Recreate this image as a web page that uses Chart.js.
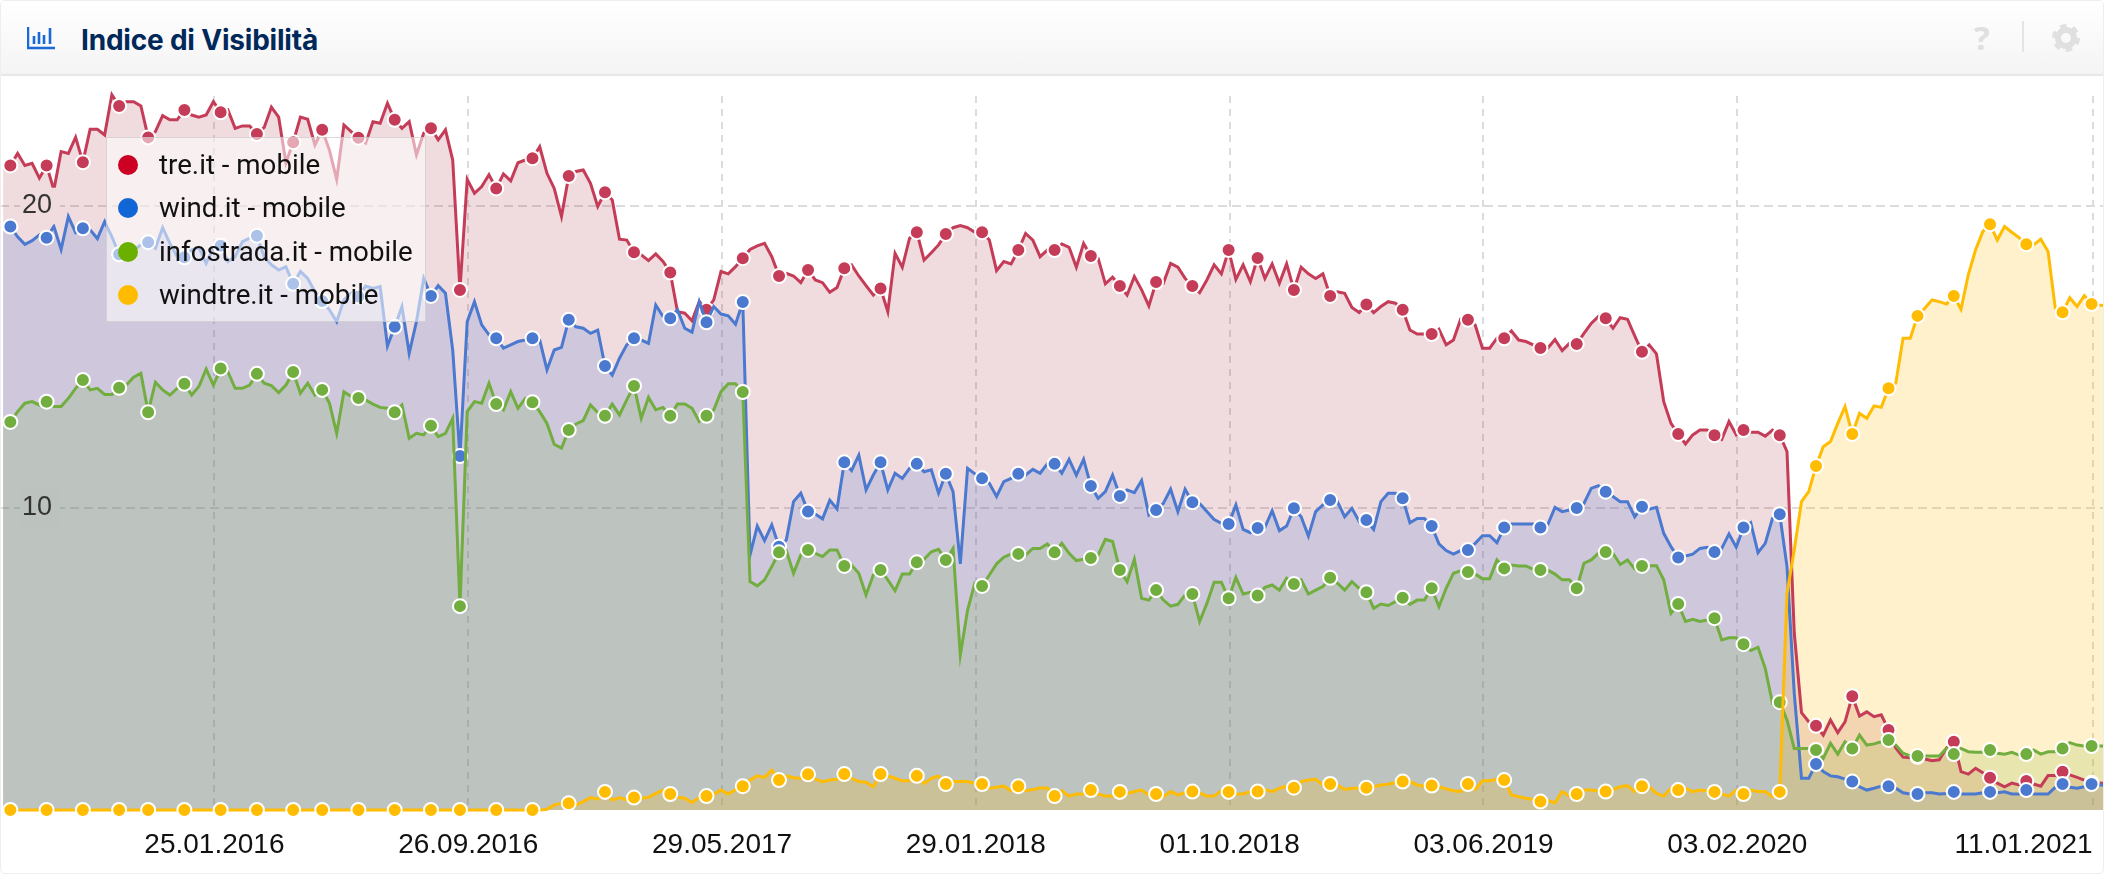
<!DOCTYPE html>
<html lang="it">
<head>
<meta charset="utf-8">
<title>Indice di Visibilità</title>
<script src="https://cdn.jsdelivr.net/npm/chart.js@4"></script>
<style>
  html, body { margin: 0; padding: 0; background: #fff; }
  #box { position: relative; width: 2102px; height: 872px; border: 1px solid #eee; border-radius: 5px; overflow: hidden; }
  #head {
    position: absolute; left: 0; top: 0; width: 100%; height: 73px;
    background: linear-gradient(#fff, #f4f4f4);
    border-bottom: 2px solid #e8e8e8;
    z-index: 3;
  }
  #head h1 {
    position: absolute; left: 80px; top: 22px; margin: 0;
    font: 700 28px/34px Inter, sans-serif; letter-spacing: -0.2px; color: #00285a;
  }
  #head svg { position: absolute; }
  #help { position: absolute; left: 1973px; top: 18px; font: 700 33px/38px "Open Sans", sans-serif; color: #e0e0e0; }
  #sep { position: absolute; left: 2021px; top: 20px; width: 2px; height: 31px; background: #e4e4e4; }
  #chartWrap { position: absolute; left: -1px; top: -1px; width: 2104px; height: 874px; }
  #legend {
    position: absolute; left: 105px; top: 136px; width: 318px; height: 183px; z-index: 2;
    background: rgba(255, 255, 255, 0.55);
    border: 1px solid rgba(190, 190, 190, 0.55);
  }
  #legend div { position: absolute; left: 52px; font: 27.7px/30px Roboto, sans-serif; color: #111; white-space: nowrap; }
  #legend i { position: absolute; left: -41px; top: 5px; width: 20px; height: 20px; border-radius: 50%; }
</style>
</head>
<body>
<div id="box">
  <div id="head">
    <svg style="left:26px;top:26px" width="29" height="23" viewBox="0 0 29 23">
      <path d="M1 0v21h27" fill="none" stroke="#1a6ad6" stroke-width="2.5"/>
      <path d="M7 9v8M12 5v12M17 8v9M23 1v16" fill="none" stroke="#1a6ad6" stroke-width="2.6"/>
    </svg>
    <h1>Indice di Visibilità</h1>
    <div id="help">?</div>
    <div id="sep"></div>
    <svg style="left:2051px;top:23px" width="28" height="28" viewBox="0 0 28 28">
      <circle cx="14" cy="14" r="8" fill="none" stroke="#e0e0e0" stroke-width="6"/>
      <circle cx="14" cy="14" r="12" fill="none" stroke="#e0e0e0" stroke-width="4" stroke-dasharray="6.4 6.17"/>
    </svg>
  </div>
  <div id="chartWrap"><canvas id="chart" width="2104" height="874"></canvas></div>
  <div id="legend"></div>
</div>
<script>
'use strict';

/* ----------------------------------------------------------
   DATA (one value per week)
---------------------------------------------------------- */
const firstWeek = Date.UTC(2015, 6, 5);

const tickDates = ['25.01.2016', '26.09.2016', '29.05.2017', '29.01.2018',
                   '01.10.2018', '03.06.2019', '03.02.2020', '11.01.2021'];

const yTickValues = [10, 20];

const seriesNames = ['tre.it - mobile', 'wind.it - mobile', 'infostrada.it - mobile', 'windtre.it - mobile'];

const treValues = [
  21.34,21.34,21.74,21.34,21.41,20.92,21.34,20.53,21.80,21.74,
  22.27,21.45,22.54,22.54,22.35,23.68,23.31,23.45,23.45,23.31,
  22.27,22.46,22.99,22.85,22.85,23.18,23.01,22.94,23.01,23.45,
  23.10,23.18,22.57,22.65,22.65,22.38,22.60,23.27,22.94,21.43,
  22.11,22.94,22.87,22.02,22.52,21.85,20.88,22.68,22.46,22.26,
  22.08,22.79,22.74,23.40,22.85,22.57,22.79,21.69,22.41,22.57,
  22.19,22.52,21.52,17.22,20.88,20.42,20.64,21.03,20.58,21.06,
  20.83,21.43,21.52,21.58,21.96,21.08,20.58,19.65,20.99,21.14,
  21.19,20.75,19.98,20.45,20.20,18.90,18.87,18.47,18.38,18.19,
  18.41,18.16,17.80,16.50,16.45,16.20,16.83,16.56,16.89,17.83,
  17.75,17.99,18.27,18.56,18.68,18.76,18.32,17.68,17.77,17.68,
  17.46,17.88,17.55,17.46,17.14,17.30,17.94,18.05,17.68,17.36,
  17.05,17.27,16.50,18.43,17.97,18.93,19.13,18.21,18.45,18.71,
  19.07,19.28,19.35,19.28,19.13,19.13,18.87,17.86,18.16,18.08,
  18.54,19.09,18.87,18.32,18.54,18.54,18.74,18.63,17.97,18.76,
  18.34,18.27,17.42,17.64,17.35,17.05,17.66,17.22,16.69,17.48,
  17.44,18.10,17.97,17.60,17.35,17.13,17.55,18.05,17.75,18.54,
  17.57,18.05,17.49,18.28,17.60,18.08,17.44,18.08,17.22,17.97,
  17.75,17.60,17.75,17.02,17.16,17.11,16.64,16.47,16.74,16.47,
  16.67,16.83,16.78,16.56,15.89,15.76,15.76,15.76,15.92,15.40,
  15.56,16.25,16.23,16.06,15.29,15.29,15.62,15.62,15.86,15.56,
  15.51,15.40,15.30,15.29,15.58,15.21,15.45,15.43,15.78,16.11,
  16.34,16.28,15.95,16.30,16.25,15.70,15.17,15.40,15.10,13.52,
  12.80,12.45,12.12,12.42,12.58,12.58,12.41,12.27,12.86,12.42,
  12.58,12.51,12.51,12.38,12.58,12.41,11.87,5.86,3.22,2.92,
  2.79,2.48,2.98,2.56,2.92,3.77,3.11,3.25,3.09,3.15,
  2.65,2.05,1.75,1.73,1.76,1.69,1.63,1.66,2.05,2.26,
  1.27,1.19,1.38,1.23,1.07,0.89,0.77,0.89,0.83,0.96,
  0.86,0.79,1.14,1.14,1.27,1.16,1.08,0.99,0.90,0.89,
  0.88
];

const windValues = [
  19.32,19.32,18.98,18.73,18.85,19.04,18.95,19.32,18.56,19.65,
  19.12,19.26,19.21,18.92,19.48,18.98,18.40,18.60,18.54,18.71,
  18.80,18.60,19.28,18.76,18.32,18.30,18.54,18.63,18.10,18.60,
  18.68,18.16,18.32,18.82,18.93,19.01,18.32,18.05,17.88,17.99,
  17.42,17.83,17.60,17.16,16.85,16.56,16.17,16.89,17.11,17.00,
  17.35,17.27,17.33,15.36,16.00,16.67,15.12,16.17,17.60,17.02,
  17.36,17.11,15.23,11.72,16.17,16.83,16.06,15.73,15.62,15.29,
  15.40,15.51,15.56,15.62,15.56,14.57,15.23,15.32,16.23,16.00,
  15.95,15.78,15.89,14.70,14.40,14.96,15.40,15.62,15.56,15.45,
  16.72,16.34,16.28,16.56,15.95,15.82,16.83,16.15,16.67,16.42,
  16.36,16.08,16.82,8.44,9.40,8.92,9.44,8.72,8.94,10.21,
  10.49,9.88,9.80,9.64,10.26,9.97,11.51,11.24,11.75,10.60,
  11.09,11.51,10.60,11.15,10.98,11.31,11.46,11.20,11.26,10.49,
  11.13,10.54,8.15,11.31,11.13,10.98,10.82,10.38,10.87,10.98,
  11.13,11.09,11.28,11.15,11.46,11.46,11.15,11.61,11.09,11.61,
  10.73,10.32,10.54,11.09,10.40,10.60,10.51,10.91,9.77,9.93,
  10.15,10.62,9.88,10.62,10.19,10.15,9.88,9.62,9.49,9.47,
  10.10,9.29,9.18,9.34,9.36,9.91,9.25,9.40,9.99,9.71,
  9.07,9.88,10.10,10.26,10.21,9.71,9.99,9.55,9.60,9.29,
  10.21,10.49,10.49,10.32,9.51,9.65,9.65,9.40,8.81,8.59,
  8.47,8.59,8.61,8.83,9.08,9.08,8.85,9.35,9.47,9.47,
  9.47,9.47,9.35,9.44,10.02,9.88,9.93,10.00,10.15,10.65,
  10.74,10.54,10.38,10.21,10.21,9.71,10.04,9.96,10.02,9.16,
  8.72,8.36,8.41,8.47,8.66,8.70,8.54,8.66,9.14,8.70,
  9.35,9.51,8.52,8.83,9.66,9.79,8.06,3.86,1.05,1.05,
  1.52,1.27,1.13,1.10,1.02,0.94,0.77,0.66,0.72,0.79,
  0.79,0.72,0.57,0.53,0.53,0.57,0.57,0.53,0.55,0.60,
  0.53,0.53,0.53,0.57,0.60,0.57,0.60,0.53,0.53,0.66,
  0.53,0.53,0.53,0.75,0.86,0.75,0.72,0.77,0.86,0.83,
  0.83
];

const infostradaValues = [
  12.80,12.85,13.19,13.47,13.52,13.41,13.52,13.36,13.36,13.63,
  13.96,14.24,13.91,13.96,13.76,13.76,13.98,14.07,14.33,14.46,
  13.17,14.16,13.91,13.74,13.96,14.11,13.74,14.02,14.60,14.07,
  14.62,14.51,13.96,13.96,14.07,14.44,14.13,14.05,13.82,14.07,
  14.50,13.80,14.13,13.74,13.91,13.47,12.47,13.85,13.69,13.64,
  13.58,13.44,13.33,13.30,13.17,13.41,12.31,12.47,12.42,12.72,
  12.36,12.47,12.97,6.75,13.19,13.52,13.47,14.13,13.44,13.25,
  13.85,13.30,13.63,13.50,13.19,12.80,12.11,11.98,12.58,12.78,
  12.89,13.41,13.16,13.05,13.44,13.08,13.58,14.04,12.97,13.66,
  13.25,13.33,13.05,13.44,13.44,13.30,12.86,13.05,13.25,13.85,
  14.11,14.11,13.84,7.56,7.42,7.62,8.06,8.53,8.59,7.84,
  8.44,8.61,8.50,8.39,8.61,8.61,8.08,8.11,7.84,7.12,
  7.78,7.95,7.62,7.26,7.81,7.81,8.20,8.30,8.55,8.63,
  8.28,8.66,5.13,6.62,7.51,7.42,7.78,8.15,8.37,8.48,
  8.48,8.44,8.66,8.66,8.81,8.53,8.83,8.50,8.26,8.30,
  8.34,8.44,8.96,8.89,7.95,7.56,8.30,7.01,6.95,7.28,
  6.95,6.75,6.81,7.12,7.15,6.24,6.84,7.54,7.54,7.01,
  7.70,7.15,7.21,7.10,7.37,7.45,7.28,7.67,7.48,7.62,
  7.15,7.28,7.40,7.69,7.51,7.28,7.56,7.34,7.21,6.68,
  6.82,6.77,6.90,7.03,6.81,6.95,6.95,7.34,6.73,7.34,
  7.84,7.92,7.88,7.81,7.66,7.66,8.28,8.00,8.11,8.08,
  8.08,7.97,7.95,7.95,7.81,7.62,7.62,7.34,8.17,8.28,
  8.50,8.54,8.50,8.13,8.28,7.98,8.08,8.09,8.09,7.62,
  6.51,6.82,6.24,6.31,6.24,6.29,6.35,5.63,5.70,5.70,
  5.49,5.28,5.39,4.69,3.53,3.57,2.98,2.04,2.04,2.04,
  1.99,1.71,2.21,1.85,2.26,2.04,2.48,2.15,2.19,2.26,
  2.32,2.15,1.88,1.79,1.79,1.79,1.79,1.79,2.04,1.85,
  2.04,1.93,1.91,1.91,1.99,1.88,1.85,1.91,1.82,1.85,
  1.99,1.85,1.93,1.93,2.04,2.23,2.15,2.12,2.12,2.12,
  2.12
];

const windtreValues = [
  0,0,0,0,0,0,0,0,0,0,
  0,0,0,0,0,0,0,0,0,0,
  0,0,0,0,0,0,0,0,0,0,
  0,0,0,0,0,0,0,0,0,0,
  0,0,0,0,0,0,0,0,0,0,
  0,0,0,0,0,0,0,0,0,0,
  0,0,0,0,0,0,0,0,0,0,
  0,0,0,0,0,0.02,0.17,0.22,0.22,0.17,
  0.28,0.41,0.36,0.60,0.33,0.41,0.33,0.41,0.39,0.42,
  0.55,0.66,0.53,0.42,0.39,0.25,0.42,0.46,0.53,0.66,
  0.53,0.68,0.79,0.99,1.13,1.08,1.32,0.99,1.13,1.07,
  1.05,1.18,1.02,0.94,0.99,1.02,1.19,1.05,0.94,0.92,
  0.77,1.19,1.13,1.05,0.97,0.97,1.13,0.88,1.05,1.13,
  0.86,0.94,0.94,0.94,0.88,0.86,0.72,0.75,0.79,0.64,
  0.79,0.64,0.68,0.73,0.73,0.46,0.64,0.46,0.53,0.53,
  0.66,0.53,0.46,0.46,0.60,0.55,0.61,0.66,0.50,0.53,
  0.44,0.61,0.50,0.57,0.61,0.57,0.46,0.46,0.64,0.60,
  0.53,0.53,0.61,0.61,0.68,0.61,0.72,0.79,0.74,0.94,
  0.99,1.02,0.83,0.86,0.83,0.68,0.72,0.72,0.74,0.77,
  0.83,0.85,0.91,0.94,0.94,0.83,0.79,0.81,0.77,0.70,
  0.64,0.61,0.86,0.68,0.97,0.97,1.02,0.99,0.50,0.44,
  0.39,0.35,0.28,0.31,0.24,0.61,0.46,0.53,0.66,0.66,
  0.63,0.61,0.68,0.77,0.81,0.61,0.79,0.77,0.55,0.46,
  0.72,0.66,0.72,0.61,0.66,0.64,0.60,0.53,0.46,0.66,
  0.53,0.66,0.61,0.61,0.44,0.60,7.17,8.61,10.21,10.54,
  11.39,12.03,12.20,12.80,13.36,12.45,13.13,12.97,13.38,13.33,
  13.96,14.13,15.62,15.62,16.36,16.61,16.89,16.83,16.75,17.02,
  16.58,17.72,18.54,19.15,19.39,18.87,19.32,19.13,18.95,18.73,
  18.71,18.90,18.49,16.61,16.48,16.96,16.67,17.03,16.75,16.72,
  16.70
];

/* Weeks (by position in the series) that carry a round marker */
const markerWeeks = [
  1,6,11,16,20,25,30,35,40,44,49,54,59,63,68,73,78,83,87,92,97,102,107,111,116,121,126,130,
  135,140,145,150,154,159,164,169,173,178,183,188,193,197,202,207,212,217,221,226,231,236,
  240,245,250,255,260,264,269,274,279,284,288
];

/* ----------------------------------------------------------
   HELPERS
---------------------------------------------------------- */
const DAY = 86400000;

/* Days since the first week for a dd.mm.yyyy string */
function dayNumber(text) {
  const [d, m, y] = text.split('.').map(Number);
  return (Date.UTC(y, m - 1, d) - firstWeek) / DAY;
}

function toPoints(values) {
  return values.map((y, i) => ({ x: i * 7, y }));
}

function makeDataset(name, values, color, fillColor, order) {
  return {
    label: name,
    data: toPoints(values),
    borderColor: color,
    backgroundColor: fillColor,
    borderWidth: 3,
    tension: 0,
    fill: 'origin',
    clip: false,
    order,
    pointRadius: ctx => (markerWeeks.includes(ctx.dataIndex) ? 7 : 0),
    pointBackgroundColor: color,
    pointBorderColor: '#fff',
    pointBorderWidth: 2,
  };
}

const tickDays = tickDates.map(dayNumber);
const xMin = -3;
const xMax = 2028;

/* ----------------------------------------------------------
   CHART
---------------------------------------------------------- */
const chart = new Chart(document.getElementById('chart'), {
  type: 'line',
  data: {
    datasets: [
      makeDataset(seriesNames[0], treValues, '#c43c57', 'rgba(155, 22, 42, 0.15)', 4),
      makeDataset(seriesNames[1], windValues, '#4a79cf', 'rgba(75, 120, 213, 0.2)', 3),
      makeDataset(seriesNames[2], infostradaValues, '#72ad40', 'rgba(116, 173, 69, 0.2)', 2),
      makeDataset(seriesNames[3], windtreValues, '#ffbc00', 'rgba(255, 185, 0, 0.2)', 1),
    ],
  },
  options: {
    responsive: false,
    animation: false,
    events: [],
    layout: { padding: { top: 96, left: 0, right: 0, bottom: 0 } },
    plugins: {
      legend: { display: false },
      tooltip: { enabled: false },
      /* all areas first, so lines and markers stay clean on top of them */
      filler: { drawTime: 'beforeDatasetsDraw' },
    },
    scales: {
      x: {
        type: 'linear',
        min: xMin,
        max: xMax,
        /* blank first tick so 'inner' only moves the last label */
        afterBuildTicks(scale) {
          scale.ticks = [xMin].concat(tickDays).map(value => ({ value }));
        },
        afterFit(scale) { scale.height = 64; },
        border: { display: false, dash: [7, 6] },
        grid: {
          lineWidth: 2,
          color: ctx => (ctx.index === 0 ? 'transparent' : '#dcdcdc'),
          /* hidden tick marks: these set the gap above the labels, ticks.padding would shrink the chart area */
          tickColor: 'transparent',
          tickLength: 18,
        },
        ticks: {
          autoSkip: false,
          maxRotation: 0,
          align: 'inner',
          padding: 0,
          color: '#111',
          font: { family: 'Liberation Sans', size: 28 },
          callback(value, index) { return index === 0 ? '' : tickDates[index - 1]; },
        },
      },
      y: {
        min: 0,
        max: 23.64,
        afterBuildTicks(scale) {
          scale.ticks = yTickValues.map(value => ({ value }));
        },
        afterFit(scale) { scale.width = 0; },
        border: { display: false, dash: [9, 5] },
        grid: {
          drawTicks: false,
          lineWidth: 2,
          color: '#dcdcdc',
        },
        ticks: {
          mirror: true,
          padding: 22,
          z: 1,
          color: '#333',
          font: { family: 'Liberation Sans', size: 27 },
          showLabelBackdrop: true,
          backdropPadding: { left: 2, right: 8, top: 2, bottom: 2 },
          backdropColor: ctx => (ctx.tick.value === 20 ? '#f0dcdf' : '#bcc3be'),
        },
      },
    },
  },
});

/* ----------------------------------------------------------
   LEGEND (html box on top of the chart, built from the datasets)
---------------------------------------------------------- */
const LEGEND_COLORS = ['#cc0022', '#1166d6', '#6bb000', '#ffbb00'];
const legendBox = document.getElementById('legend');
chart.data.datasets.forEach((ds, i) => {
  const row = document.createElement('div');
  row.style.top = (12 + i * 43.3) + 'px';
  row.innerHTML = `<i style="background:${LEGEND_COLORS[i]}"></i>${ds.label}`;
  legendBox.appendChild(row);
});
</script>
</body>
</html>
